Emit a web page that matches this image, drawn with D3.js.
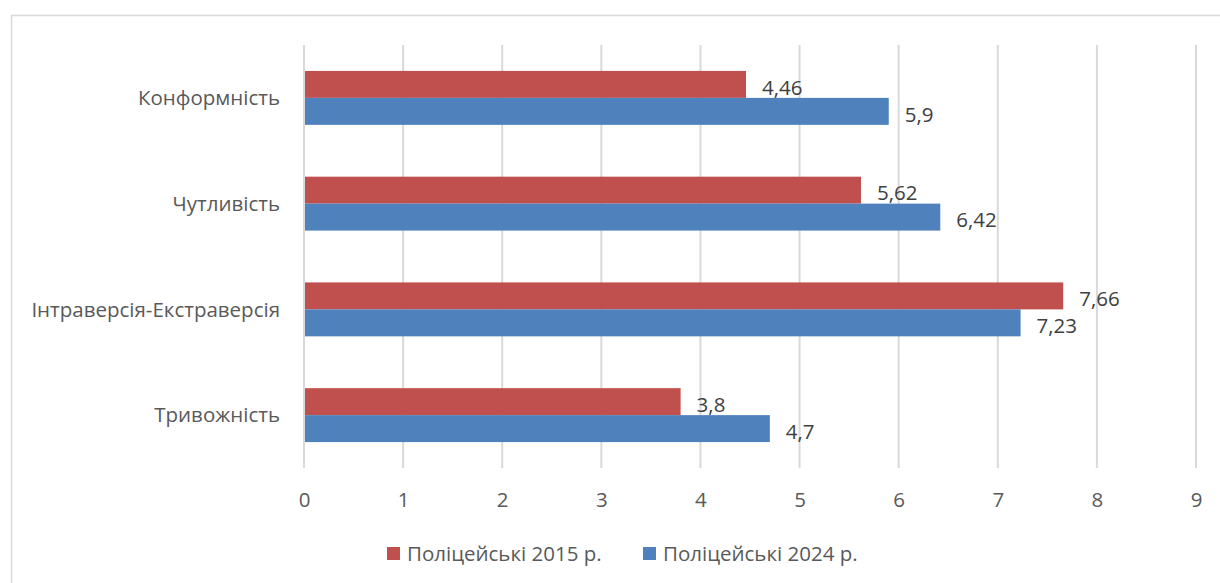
<!DOCTYPE html>
<html>
<head>
<meta charset="utf-8">
<script src="https://cdn.jsdelivr.net/npm/d3@7"></script>
<style>
  body { margin: 0; background: #fff; }
  text { font-family: "Open Sans", "Noto Sans", sans-serif; fill: #595959; }
</style>
</head>
<body>
<svg id="chart" width="1220" height="583"></svg>
<script>
// data
const categories = ["Конформність", "Чутливість", "Інтраверсія-Екстраверсія", "Тривожність"]
const series2015 = [4.46, 5.62, 7.66, 3.8]
const series2024 = [5.9, 6.42, 7.23, 4.7]
const seriesNames = ["Поліцейські 2015 р.", "Поліцейські 2024 р."]
const colors = ["#C0504D", "#4F81BD"]
const xTicks = [0, 1, 2, 3, 4, 5, 6, 7, 8, 9]

const svg = d3.select("#chart")
const plotLeft = 304, plotRight = 1196, plotTop = 45, plotBottom = 468
const fs = 20.5

// outer frame
svg.append("rect")
    .attr("x", 11.5).attr("y", 15.5)
    .attr("width", 1230).attr("height", 600)
    .attr("fill", "none").attr("stroke", "#D9D9D9").attr("stroke-width", 1.5)

const x = d3.scaleLinear().domain([0, 9]).range([plotLeft, plotRight])
const y = d3.scaleBand().domain(categories).range([plotTop, plotBottom]).paddingInner(0.49).paddingOuter(0.245)
const inner = d3.scaleBand().domain([0, 1]).range([0, y.bandwidth()])

// gridlines
svg.append("g").selectAll("line")
    .data(xTicks)
    .enter().append("line")
    .attr("x1", d => x(d)).attr("x2", d => x(d))
    .attr("y1", plotTop).attr("y2", plotBottom)
    .attr("stroke", "#D9D9D9").attr("stroke-width", 2)

// x labels
const xAxis = d3.axisBottom(x).tickValues(xTicks).tickSize(0).tickPadding(0).tickFormat(d => d)
const gx = svg.append("g").attr("transform", "translate(0," + (plotBottom + 32) + ")").call(xAxis)
gx.select(".domain").remove()
gx.selectAll("text").attr("font-size", fs).attr("dy", "0.35em").style("fill", "#595959")
    .style("font-family", "'Open Sans', sans-serif")

// category labels
svg.append("g").selectAll("text")
    .data(categories)
    .enter().append("text")
    .attr("x", plotLeft - 24)
    .attr("y", d => y(d) + y.bandwidth() / 2)
    .attr("dy", "0.35em")
    .attr("text-anchor", "end")
    .attr("font-size", fs)
    .text(d => d)

const groups = [series2015, series2024]
groups.forEach((vals, si) => {
    const g = svg.append("g")
    g.selectAll("rect")
        .data(vals)
        .enter().append("rect")
        .attr("x", x(0) + 1)
        .attr("y", (d, i) => y(categories[i]) + inner(si))
        .attr("width", d => x(d) - x(0) - 1)
        .attr("height", inner.bandwidth())
        .attr("fill", colors[si])
    g.selectAll("text")
        .data(vals)
        .enter().append("text")
        .attr("x", d => x(d) + 16)
        .attr("y", (d, i) => y(categories[i]) + inner(si) + inner.bandwidth() / 2 + 3)
        .attr("dy", "0.35em")
        .attr("font-size", fs)
        .style("fill", "#404040")
        .text(d => String(d).replace(".", ","))
})

// legend
const legendX = [387, 643]
const lg = svg.append("g")
seriesNames.forEach((name, i) => {
    lg.append("rect")
        .attr("x", legendX[i]).attr("y", 547)
        .attr("width", 13).attr("height", 13)
        .attr("fill", colors[i])
    lg.append("text")
        .attr("x", legendX[i] + 20).attr("y", 554)
        .attr("dy", "0.35em")
        .attr("font-size", fs)
        .text(name)
})
</script>
</body>
</html>
